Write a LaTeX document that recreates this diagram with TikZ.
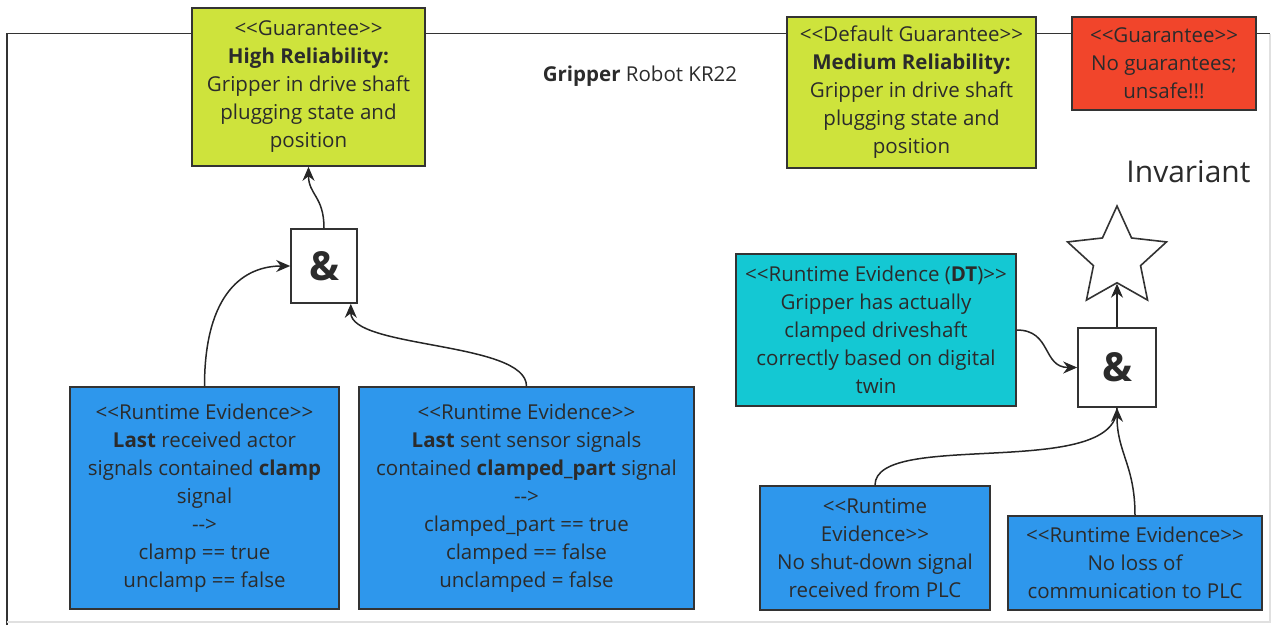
\documentclass[tikz,border=0pt]{standalone}
\usepackage{fontspec}
\setmainfont{Open Sans}
\usetikzlibrary{arrows.meta,shapes.geometric}
\definecolor{lime}{HTML}{CEE33C}
\definecolor{alarm}{HTML}{F1452B}
\definecolor{twin}{HTML}{14C8D3}
\definecolor{evid}{HTML}{2E97EC}
\definecolor{ink}{HTML}{2B2B2B}
\definecolor{edge}{HTML}{333333}
% stereotype brackets, kept apart so they do not merge into guillemets
\newcommand{\stlo}{<{}<}
\newcommand{\sthi}{>{}>}
\begin{document}
\begin{tikzpicture}[x=1pt,y=-1pt,
  every node/.style={text=ink},
  box/.style={draw=edge,line width=1.6pt,inner sep=0pt,align=center,
    font=\fontsize{20.5}{28}\selectfont},
  guarantee/.style={box,fill=lime},
  unsafe/.style={box,fill=alarm},
  dtbox/.style={box,fill=twin},
  evbox/.style={box,fill=evid},
  andbox/.style={draw=edge,line width=1.6pt,fill=white,inner sep=0pt,
    font=\fontsize{40}{40}\selectfont\bfseries},
  arr/.style={draw=black!85,line width=1.5pt,-{Stealth[length=14pt,width=12pt]}},
  link/.style={draw=black!85,line width=1.5pt}]
\useasboundingbox (0,0) rectangle (1272,625);

% enclosing frame
\draw[edge,line width=1.6pt] (7,625) -- (7,33.5) -- (1270,33.5);
\draw[black!12,line width=1.2pt] (1270,33.5) -- (1270,622) -- (7,622);

% title and invariant label
\node[font=\fontsize{20.5}{24}\selectfont] (title) at (640,76) {\textbf{Gripper} Robot KR22};
\node[font=\fontsize{30}{34}\selectfont,anchor=east] (invlabel) at (1254,172) {Invariant};

% guarantees
\node[guarantee,minimum width=233,minimum height=158] (gH) at (308.5,87)
  {\stlo Guarantee\sthi\\\textbf{High Reliability:}\\Gripper in drive shaft\\plugging state and\\position};
\node[guarantee,minimum width=249,minimum height=151] (gM) at (911.5,92.5)
  {\stlo Default Guarantee\sthi\\\textbf{Medium Reliability:}\\Gripper in drive shaft\\plugging state and\\position};
\node[unsafe,minimum width=184,minimum height=93] (gR) at (1164,63.5)
  {\stlo Guarantee\sthi\\No guarantees;\\unsafe!!!};

% conjunctions and invariant star
\node[andbox,minimum width=66,minimum height=74] (andL) at (324,266) {\&};
\node[andbox,minimum width=78,minimum height=79] (andR) at (1117,367.5) {\&};
\node[star,star points=5,star point ratio=2.1,minimum size=104,inner sep=0pt,
  draw=edge,line width=1.6pt,fill=white] (inv) at (1117,258) {};

% runtime evidence
\node[evbox,minimum width=269,minimum height=222] (ev1) at (204.5,498)
  {\stlo Runtime Evidence\sthi\\\textbf{Last} received actor\\signals contained \textbf{clamp}\\signal\\-{}->\\clamp == true\\unclamp == false};
\node[evbox,minimum width=335,minimum height=222] (ev2) at (526.5,498)
  {\stlo Runtime Evidence\sthi\\\textbf{Last} sent sensor signals\\contained \textbf{clamped\_part} signal\\-{}->\\clamped\_part == true\\clamped == false\\unclamped = false};
\node[dtbox,minimum width=280,minimum height=152] (evDT) at (876,330)
  {\stlo Runtime Evidence (\textbf{DT})\sthi\\Gripper has actually\\clamped driveshaft\\correctly based on digital\\twin};
\node[evbox,minimum width=230,minimum height=124] (ev3) at (875,548)
  {\stlo Runtime\\Evidence\sthi\\No shut-down signal\\received from PLC};
\node[evbox,minimum width=254,minimum height=94] (ev4) at (1135,563)
  {\stlo Runtime Evidence\sthi\\No loss of\\communication to PLC};

% connectors
\draw[arr] (andL.north) .. controls +(0,-32) and +(0,28) .. (gH.south);
\draw[arr] (ev1.north) .. controls +(0,-95) and +(-45,0) .. (andL.west);
\draw[arr] (ev2.north) .. controls +(0,-45) and +(0,45) .. ([xshift=-7pt]andL.south east);
\draw[arr] (evDT.east) .. controls +(35,0) and +(-35,0) .. (andR.west);
\draw[link] (ev3.north) .. controls +(0,-56) and +(0,73) .. (andR.south);
\draw[arr] (ev4.north) .. controls +(0,-50) and +(0,45) .. (andR.south);
\draw[arr] (andR.north) -- (inv.south);
\end{tikzpicture}
\end{document}
